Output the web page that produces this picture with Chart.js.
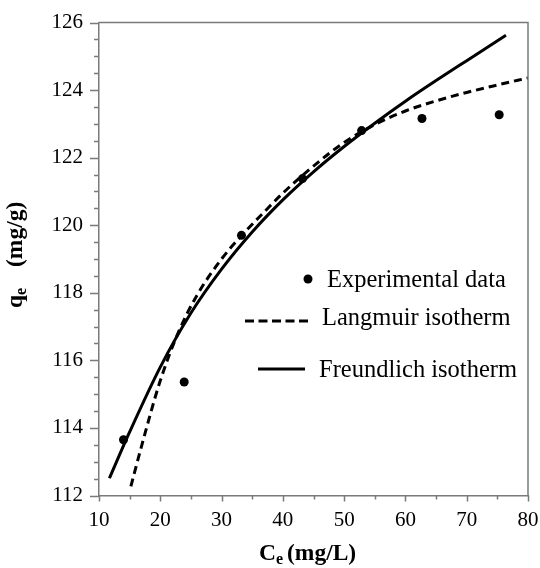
<!DOCTYPE html>
<html><head><meta charset="utf-8">
<script src="https://cdn.jsdelivr.net/npm/chart.js@4.4.0/dist/chart.umd.min.js"></script>
<style>html,body{margin:0;padding:0;background:#fff;} canvas{display:block;}</style>
</head><body>
<canvas id="c" width="540" height="568"></canvas>
<script>
// ---- data ----
const expC  = [14.0, 23.9, 33.25, 43.2, 52.85, 62.7, 75.3];
const expQ  = [113.65, 115.36, 119.70, 121.38, 122.80, 123.16, 123.27];
const langC = [15.2, 17, 20, 23, 26, 30, 33.3, 37, 40, 45, 50, 55, 60, 65, 70, 75, 80];
const langQ = [112.27, 113.5, 115.4, 116.85, 117.93, 119.0, 119.7, 120.4, 120.95, 121.75, 122.45, 122.98, 123.38, 123.68, 123.93, 124.15, 124.36];
const freuC = [11.7, 15, 20, 25, 30, 35, 40, 45, 50, 55, 60, 65, 70, 76.4];
const freuQ = [112.51, 113.88, 115.8, 117.4, 118.7, 119.8, 120.75, 121.58, 122.33, 123.02, 123.67, 124.28, 124.87, 125.62];
const xTicks = [10, 20, 30, 40, 50, 60, 70, 80];
const yTicks = [112, 114, 116, 118, 120, 122, 124, 126];
const seriesNames = ['Experimental data', 'Langmuir isotherm', 'Freundlich isotherm'];
const xTitle = ['C', 'e', '(mg/L)'];
const yTitle = ['q', 'e', '(mg/g)'];

const SERIF = "'Liberation Serif','Times New Roman',serif";
const AXIS = '#7a7a7a';

const pts = (xs, ys) => xs.map((x, i) => ({x: x, y: ys[i]}));

const deco = {
  id: 'deco',
  afterDraw(chart) {
    const ctx = chart.ctx, a = chart.chartArea;
    const xs = chart.scales.x, ys = chart.scales.y;
    ctx.save();
    // box top & right
    ctx.strokeStyle = AXIS; ctx.lineWidth = 1.5;
    ctx.beginPath();
    ctx.moveTo(a.left, a.top); ctx.lineTo(a.right, a.top); ctx.lineTo(a.right, a.bottom);
    ctx.stroke();
    // tick marks (major + minor)
    ctx.beginPath();
    for (let v = yTicks[0]; v <= yTicks[yTicks.length - 1] + 1e-9; v += 0.5) {
      const p = Math.round(ys.getPixelForValue(v)) + 0.5;
      const major = yTicks.includes(Math.round(v * 10) / 10);
      ctx.moveTo(a.left - (major ? 9 : 5), p); ctx.lineTo(a.left, p);
    }
    for (let v = xTicks[0]; v <= xTicks[xTicks.length - 1] + 1e-9; v += 5) {
      const p = Math.round(xs.getPixelForValue(v)) + 0.5;
      const major = xTicks.includes(v);
      ctx.moveTo(p, a.bottom); ctx.lineTo(p, a.bottom + (major ? 6 : 4));
    }
    ctx.stroke();

    // legend
    ctx.fillStyle = '#000'; ctx.strokeStyle = '#000';
    ctx.font = '24.5px ' + SERIF; ctx.textBaseline = 'alphabetic'; ctx.textAlign = 'left';
    ctx.beginPath(); ctx.arc(308, 279, 4.5, 0, Math.PI * 2); ctx.fill();
    ctx.fillText(seriesNames[0], 327, 287);
    ctx.lineWidth = 3; ctx.setLineDash([9, 4.5]);
    ctx.beginPath(); ctx.moveTo(245, 321); ctx.lineTo(312, 321); ctx.stroke();
    ctx.setLineDash([]);
    ctx.fillText(seriesNames[1], 322, 325);
    ctx.beginPath(); ctx.moveTo(258, 369); ctx.lineTo(305, 369); ctx.stroke();
    ctx.fillText(seriesNames[2], 319, 377);

    // axis titles with subscript
    const big = 'bold 23.5px ' + SERIF, small = 'bold 16px ' + SERIF;
    ctx.font = big; ctx.fillText(xTitle[0], 259, 560);
    let w = ctx.measureText(xTitle[0]).width;
    ctx.font = small; ctx.fillText(xTitle[1], 259 + w, 564);
    ctx.font = big; ctx.fillText(xTitle[2], 287, 560);
    ctx.translate(22, 308); ctx.rotate(-Math.PI / 2);
    ctx.font = big; ctx.fillText(yTitle[0], 0, 0);
    w = ctx.measureText(yTitle[0]).width;
    ctx.font = small; ctx.fillText(yTitle[1], w, 4);
    ctx.font = big; ctx.fillText(yTitle[2], 41, 0);
    ctx.restore();
  }
};

new Chart(document.getElementById('c'), {
  type: 'scatter',
  data: {
    datasets: [
      { label: seriesNames[0], data: pts(expC, expQ), showLine: false,
        pointRadius: 4.5, pointHoverRadius: 4.5, pointBackgroundColor: '#000', pointBorderColor: '#000', pointBorderWidth: 0 },
      { label: seriesNames[1], data: pts(langC, langQ), showLine: true, pointRadius: 0,
        borderColor: '#000', borderWidth: 3, borderDash: [8, 5], cubicInterpolationMode: 'monotone', fill: false },
      { label: seriesNames[2], data: pts(freuC, freuQ), showLine: true, pointRadius: 0,
        borderColor: '#000', borderWidth: 3, cubicInterpolationMode: 'monotone', fill: false }
    ]
  },
  options: {
    responsive: false, animation: false, devicePixelRatio: 1,
    layout: { padding: { top: 22.5, right: 12, left: 0, bottom: 0 } },
    plugins: { legend: { display: false }, tooltip: { enabled: false }, title: { display: false } },
    scales: {
      x: {
        type: 'linear', min: 10, max: 80,
        afterBuildTicks: s => { s.ticks = xTicks.map(v => ({value: v})); },
        afterFit: s => { s.height = 72.5; },
        grid: { display: true, drawOnChartArea: false, drawTicks: true, tickLength: 12, tickColor: 'rgba(0,0,0,0)' },
        border: { display: true, color: AXIS, width: 1.5 },
        ticks: { color: '#000', padding: 0, maxRotation: 0, font: { family: SERIF, size: 21 } }
      },
      y: {
        type: 'linear', min: 112, max: 126,
        afterBuildTicks: s => { s.ticks = yTicks.map(v => ({value: v})); },
        afterFit: s => { s.width = 99; },
        grid: { display: true, drawOnChartArea: false, drawTicks: true, tickLength: 16, tickColor: 'rgba(0,0,0,0)' },
        border: { display: true, color: AXIS, width: 1.5 },
        ticks: { color: '#000', padding: 0, font: { family: SERIF, size: 21 } }
      }
    }
  },
  plugins: [deco]
});
</script>
</body></html>
